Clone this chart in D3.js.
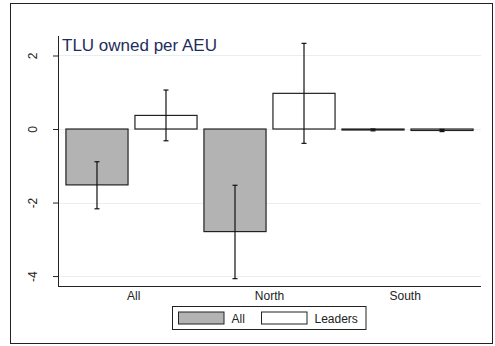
<!DOCTYPE html>
<html><head><meta charset="utf-8">
<script src="https://cdn.jsdelivr.net/npm/d3@7"></script>
<style>body{margin:0;background:#fff}svg{display:block}text{font-family:Arial,"Liberation Sans",sans-serif}</style>
</head><body><svg id="c" width="495" height="346"></svg>
<script>
const groups = ["All","North","South"];
const seriesNames = ["All","Leaders"];
const meanAll = [-1.52, -2.79, -0.02];
const meanLeaders = [0.37, 0.97, -0.04];
const loAll = [-2.17, -4.07, -0.05];
const hiAll = [-0.89, -1.53, 0.00];
const loLeaders = [-0.32, -0.39, -0.07];
const hiLeaders = [1.06, 2.33, -0.01];
const yTicks = [-4, -2, 0, 2];
const title = "TLU owned per AEU";

const svg = d3.select("#c");
svg.append("rect").attr("x",0).attr("y",0).attr("width",495).attr("height",346).attr("fill","#fff");
svg.append("rect").attr("x",10.5).attr("y",3.5).attr("width",482).attr("height",340)
  .attr("fill","#fff").attr("stroke","#222").attr("stroke-width",1);

const L=58, R=481, T=36, B=286;
const y = d3.scaleLinear().domain([-4.27, 2.53]).range([B, T]);
const keys = [];
groups.forEach((g,i)=>seriesNames.forEach((s,j)=>keys.push({g,s,i,j})));
const x = d3.scaleBand().domain(keys.map(k=>k.g+"|"+k.s)).range([L,R]).paddingInner(0.1).paddingOuter(0.115);

// gridlines
svg.append("g").selectAll("line").data(yTicks).join("line")
  .attr("x1",L).attr("x2",R).attr("y1",d=>Math.round(y(d))+0.5).attr("y2",d=>Math.round(y(d))+0.5)
  .attr("stroke","#e6eff1").attr("stroke-width",1);

const data = keys.map(k=>({
  key:k.g+"|"+k.s, s:k.s,
  v: k.j===0?meanAll[k.i]:meanLeaders[k.i],
  lo: k.j===0?loAll[k.i]:loLeaders[k.i],
  hi: k.j===0?hiAll[k.i]:hiLeaders[k.i]
}));

svg.append("g").selectAll("rect").data(data).join("rect")
  .attr("x",d=>x(d.key)).attr("width",x.bandwidth())
  .attr("y",d=>Math.min(y(d.v),y(0))).attr("height",d=>Math.max(Math.abs(y(d.v)-y(0)),1))
  .attr("fill",d=>d.s==="All"?"#b3b3b3":"#fff").attr("stroke","#222").attr("stroke-width",1.2);

const eb = svg.append("g").attr("stroke","#111").attr("stroke-width",1.2);
data.forEach(d=>{
  const cx = x(d.key)+x.bandwidth()/2;
  eb.append("line").attr("x1",cx).attr("x2",cx).attr("y1",y(d.hi)).attr("y2",y(d.lo));
  [d.hi,d.lo].forEach(v=>eb.append("line").attr("x1",cx-2.5).attr("x2",cx+2.5).attr("y1",y(v)).attr("y2",y(v)));
});

// axes
const ya = svg.append("g").attr("transform",`translate(${L},0)`)
  .call(d3.axisLeft(y).tickValues(yTicks).tickSize(5).tickFormat(d3.format("d")));
ya.select(".domain").remove();
ya.selectAll(".tick line").attr("stroke","#222");
ya.selectAll(".tick text").attr("transform","rotate(-90)").attr("x",0).attr("y",-25)
  .attr("dy","0.35em").attr("text-anchor","middle").attr("font-size",12).attr("fill","#222")
  .text(d=>d<0?"-"+Math.abs(d):d);
svg.append("line").attr("x1",L+0.5).attr("x2",L+0.5).attr("y1",T).attr("y2",B).attr("stroke","#222").attr("stroke-width",1);
svg.append("line").attr("x1",L).attr("x2",R).attr("y1",B+0.5).attr("y2",B+0.5).attr("stroke","#222").attr("stroke-width",1);

const gx = d3.scaleBand().domain(groups).range([x(groups[0]+"|All"), x(groups[2]+"|Leaders")+x.bandwidth()]).padding(0);
svg.append("g").selectAll("text").data(groups).join("text")
  .attr("x",d=>gx(d)+gx.bandwidth()/2).attr("y",299.5).attr("text-anchor","middle")
  .attr("font-size",12).attr("fill","#222").text(d=>d);

svg.append("text").attr("x",62).attr("y",50.5).attr("font-size",17).attr("fill","#1f2d5c").text(title);

// legend
const lg = svg.append("g");
lg.append("rect").attr("x",172.5).attr("y",306.5).attr("width",193.5).attr("height",23)
  .attr("fill","#fff").attr("stroke","#222");
const lx = [178.5, 261.5];
seriesNames.forEach((s,i)=>{
  lg.append("rect").attr("x",lx[i]).attr("y",312).attr("width",45.5).attr("height",12)
    .attr("fill",i===0?"#b3b3b3":"#fff").attr("stroke","#222");
  lg.append("text").attr("x",lx[i]+53).attr("y",322.5).attr("font-size",12).attr("fill","#222").text(s);
});
</script></body></html>
